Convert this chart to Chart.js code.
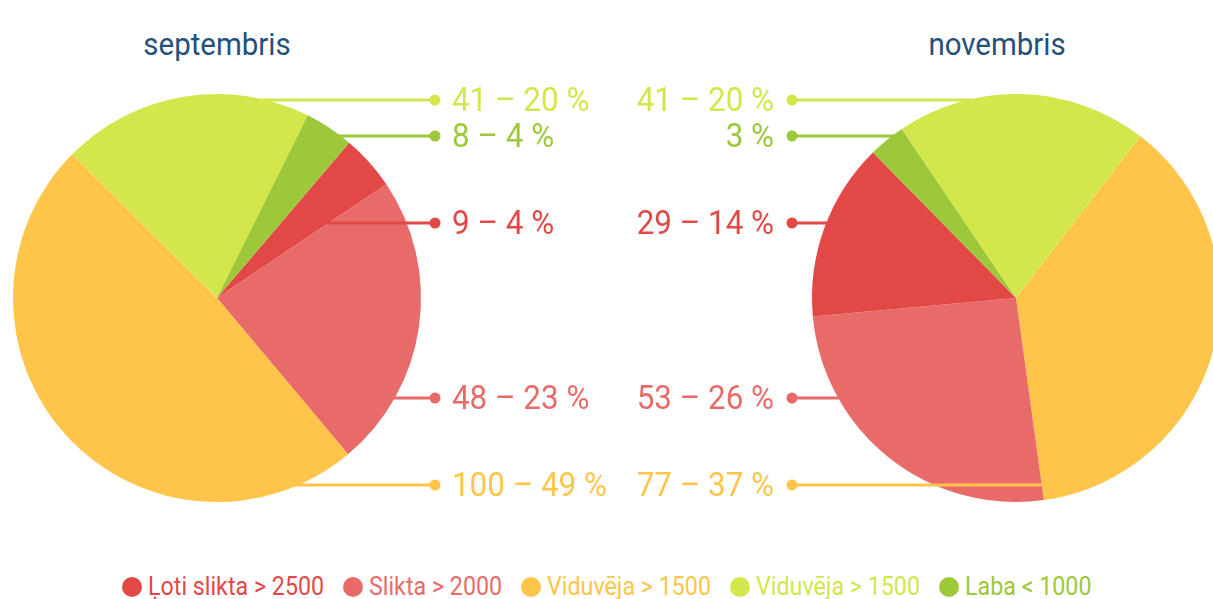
<!DOCTYPE html>
<html>
<head>
<meta charset="utf-8">
<script src="https://cdn.jsdelivr.net/npm/chart.js@4.4.1/dist/chart.umd.min.js"></script>
<style>
  html, body { margin: 0; padding: 0; background: #fff; overflow: hidden; }
  body { width: 1213px; height: 599px; position: relative; font-family: Roboto, sans-serif; }
  .box { position: absolute; top: 0; height: 560px; }
  .title { position: absolute; top: 26px; font-size: 31px; color: #24507a; transform: translateX(-50%) scaleX(0.95); white-space: nowrap; }
  #legend { position: absolute; left: 0; right: 0; top: 572px; display: flex; justify-content: center; font-size: 25px; }
  #legend span.item { display: flex; align-items: center; margin: 0 9.5px; white-space: nowrap; }
  #legend i { display: inline-block; width: 20px; height: 20px; border-radius: 50%; margin-right: 6px; }
  #legend b { display: inline-block; font-weight: 400; transform-origin: 0 50%; }
</style>
</head>
<body>
<div class="title" style="left:217px">septembris</div>
<div class="title" style="left:997px">novembris</div>
<div class="box" style="left:0; width:700px"><canvas id="sept" width="700" height="560"></canvas></div>
<div class="box" style="left:520px; width:706px"><canvas id="nov" width="706" height="560"></canvas></div>
<div id="legend"></div>
<script>
// categories (legend order)
var categories = ['Ļoti slikta > 2500', 'Slikta > 2000', 'Viduvēja > 1500', 'Viduvēja > 1500', 'Laba < 1000'];
var colors = ['#e24846', '#e96b69', '#fec54a', '#d3e64c', '#9dc83a'];

// counts per month
var septValues = [9, 48, 100, 41, 8];
var novValues = [29, 53, 77, 41, 6];
var novShowCount = [true, true, true, true, false];

// slice order around each pie (clockwise)
var septOrder = [0, 1, 2, 3, 4];
var novOrder = [2, 1, 0, 4, 3];

// vertical place of each category's label
var labelY = [223, 398, 485, 100, 136];

var FONT = "33px Roboto, sans-serif";
var SQUEEZE = 0.95;

function pick(arr, order) { return order.map(function(i){ return arr[i]; }); }

// leader lines + value labels
var calloutPlugin = {
  id: 'callouts',
  afterDatasetsDraw: function(chart, args, opts) {
    var ctx = chart.ctx;
    var meta = chart.getDatasetMeta(0);
    var data = chart.data.datasets[0].data;
    var total = data.reduce(function(a, b){ return a + b; }, 0);
    meta.data.forEach(function(arc, j) {
      var cat = opts.order[j];
      var y = labelY[cat];
      var col = colors[cat];
      var val = data[j];
      var pct = Math.round(val / total * 100);
      var txt = (opts.showCount[cat] ? val + ' – ' : '') + pct + ' %';
      // find where the horizontal line enters its slice
      var step = opts.side === 'left' ? -1 : 1;
      var endX = opts.dotX;
      for (var x = opts.dotX; Math.abs(x - opts.dotX) < 600; x += step) {
        if (arc.inRange(x, y, true)) { endX = x + step * 4; break; }
      }
      ctx.save();
      ctx.strokeStyle = col;
      ctx.fillStyle = col;
      ctx.lineWidth = 3;
      ctx.beginPath();
      ctx.moveTo(opts.dotX, y);
      ctx.lineTo(endX, y);
      ctx.stroke();
      ctx.beginPath();
      ctx.arc(opts.dotX, y, 5.5, 0, Math.PI * 2);
      ctx.fill();
      ctx.translate(opts.textX, y + 3);
      ctx.scale(SQUEEZE, 1);
      ctx.font = FONT;
      ctx.textBaseline = 'middle';
      ctx.textAlign = opts.side === 'left' ? 'left' : 'right';
      ctx.fillText(txt, 0, 0);
      ctx.restore();
    });
  }
};

function makePie(id, values, order, rotation, pad, callouts) {
  return new Chart(document.getElementById(id), {
    type: 'pie',
    data: {
      labels: pick(categories, order),
      datasets: [{
        data: pick(values, order),
        backgroundColor: pick(colors, order),
        borderWidth: 0,
        hoverOffset: 0,
        offset: 0
      }]
    },
    options: {
      responsive: false,
      animation: false,
      rotation: rotation,
      layout: { padding: pad },
      events: [],
      plugins: {
        legend: { display: false },
        tooltip: { enabled: false },
        title: { display: false },
        callouts: callouts
      }
    },
    plugins: [calloutPlugin]
  });
}

makePie('sept', septValues, septOrder, 40.4,
  { left: 13, top: 94, right: 700 - 421, bottom: 58 },
  { side: 'left', dotX: 435, textX: 452, order: septOrder, showCount: [true, true, true, true, true] });

// right canvas starts at x = 520
makePie('nov', novValues, novOrder, 37.6,
  { left: 812 - 520, top: 94, right: 706 - (1220 - 520), bottom: 58 },
  { side: 'right', dotX: 792 - 520, textX: 774 - 520, order: novOrder, showCount: novShowCount });

// legend
var legend = document.getElementById('legend');
categories.forEach(function(name, i) {
  var item = document.createElement('span');
  item.className = 'item';
  item.style.color = colors[i];
  var dot = document.createElement('i');
  dot.style.background = colors[i];
  var label = document.createElement('b');
  label.textContent = name;
  item.appendChild(dot);
  item.appendChild(label);
  legend.appendChild(item);
});
// narrow the legend text like a condensed face
Array.prototype.forEach.call(legend.querySelectorAll('b'), function(b) {
  var w = b.getBoundingClientRect().width;
  b.style.transform = 'scaleX(0.93)';
  b.style.width = (w * 0.93) + 'px';
});
</script>
</body>
</html>
